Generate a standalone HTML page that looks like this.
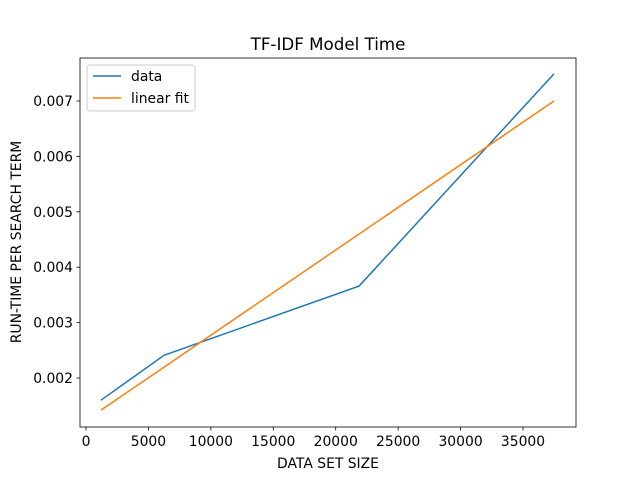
<!DOCTYPE html>
<html><head><meta charset="utf-8"><style>
body{margin:0;background:#fff;}
svg text{font-family:"DejaVu Sans","Liberation Sans",sans-serif;fill:#000;}
</style></head><body>
<svg id="chart" width="640" height="480" xmlns="http://www.w3.org/2000/svg">
<rect width="640" height="480" fill="#fff"/>
<text x="328" y="50" font-size="16.7" text-anchor="middle">TF-IDF Model Time</text>
<g id="plot"></g>
<rect x="80" y="58" width="496" height="369" fill="none" stroke="#000" stroke-width="0.8"/>
<text x="328" y="468" font-size="13.9" text-anchor="middle">DATA SET SIZE</text>
<text transform="translate(21,242) rotate(-90)" font-size="13.9" text-anchor="middle">RUN-TIME PER SEARCH TERM</text>
<g>
<rect x="87" y="65" width="108" height="46" rx="3" fill="#fff" fill-opacity="0.8" stroke="#ccc"/>
<line x1="93" y1="76" x2="121" y2="76" stroke="#1f77b4" stroke-width="1.5"/>
<text x="131" y="81" font-size="13.9">data</text>
<line x1="93" y1="98" x2="121" y2="98" stroke="#ff7f0e" stroke-width="1.5"/>
<text x="131" y="103" font-size="13.9">linear fit</text>
</g>
</svg>
<script>
const xData = [1200, 6250, 21870, 37480];
const yData = [0.00160, 0.00241, 0.00366, 0.00749];
const xFit = [1200, 37480];
const yFit = [0.00142, 0.00700];
const xTicks = [0, 5000, 10000, 15000, 20000, 25000, 30000, 35000];
const yTicks = [0.002, 0.003, 0.004, 0.005, 0.006, 0.007];

const L=80,R=576,T=58,B=427;
const xMin=-480,xMax=39244,yMin=0.001116,yMax=0.007776;
function sx(v){return L+(v-xMin)/(xMax-xMin)*(R-L);}
function sy(v){return B-(v-yMin)/(yMax-yMin)*(B-T);}
const NS="http://www.w3.org/2000/svg";
const g=document.getElementById('plot');
function mk(t,a){const e=document.createElementNS(NS,t);for(const k in a)e.setAttribute(k,a[k]);g.appendChild(e);return e;}
xTicks.forEach(v=>{
  const x=sx(v);
  const l=mk('line',{x1:x,y1:B,x2:x,y2:B+3.5,stroke:'#000','stroke-width':0.8});
  
  
  const t=mk('text',{x:x,y:B+19,'font-size':13.9,'text-anchor':'middle'});
  t.textContent=String(v);
  
  
});
yTicks.forEach(v=>{
  const y=sy(v);
  const l=mk('line',{x1:L-3.5,y1:y,x2:L,y2:y,stroke:'#000','stroke-width':0.8});
  
  
  const t=mk('text',{x:L-7,y:y+5,'font-size':13.9,'text-anchor':'end'});
  t.textContent=v.toFixed(3);
  
  
});
const p1=mk('polyline',{points:xData.map((x,i)=>sx(x)+','+sy(yData[i])).join(' '),fill:'none',stroke:'#1f77b4','stroke-width':1.5});


const p2=mk('polyline',{points:xFit.map((x,i)=>sx(x)+','+sy(yFit[i])).join(' '),fill:'none',stroke:'#ff7f0e','stroke-width':1.5});


</script>
</body></html>
